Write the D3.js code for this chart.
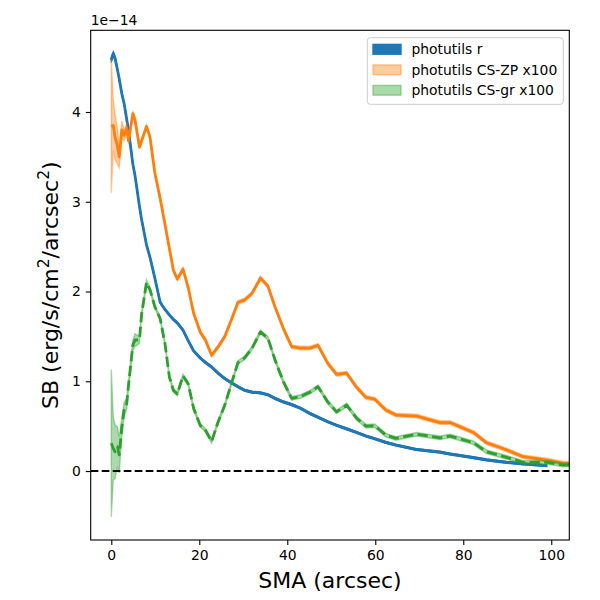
<!DOCTYPE html>
<html><head><meta charset="utf-8">
<script src="https://cdn.jsdelivr.net/npm/d3@7"></script>
<style>body{margin:0;background:#fff}svg{display:block;font-family:'DejaVu Sans',sans-serif}</style>
</head><body>
<script>
// SMA grid (arcsec)
const sma = [0.0,0.45,0.85,1.4,1.8,2.4,2.9,3.5,3.9,4.9,5.4,6.4,6.9,8.0,8.8,9.9,11.1,12.2,13.2,14.1,15.0,16.3,17.5,18.7,20.2,21.4,22.8,24.3,25.8,27.4,28.8,30.3,32.0,33.9,35.6,37.2,39.1,41.0,43.0,45.2,47.0,49.2,51.2,53.5,55.8,57.9,59.9,62.4,64.7,69.4,74.7,77.0,82.3,85.3,89.9,93.6,99.0,102.8,104.1];
// surface brightness, units of 1e-14
const sbR = [4.58,4.65,4.60,4.47,4.37,4.20,4.10,3.92,3.80,3.42,3.29,2.95,2.80,2.52,2.38,2.15,1.88,1.80,1.74,1.69,1.65,1.57,1.45,1.34,1.26,1.21,1.16,1.09,1.03,0.98,0.94,0.90,0.88,0.87,0.85,0.81,0.77,0.74,0.70,0.64,0.60,0.55,0.51,0.47,0.43,0.39,0.36,0.32,0.29,0.24,0.21,0.19,0.15,0.125,0.097,0.08,0.06,null,null];
const sbZP = [3.84,3.85,3.72,3.62,3.50,3.80,3.74,3.82,3.68,3.98,3.91,3.61,3.68,3.84,3.72,3.32,3.04,2.75,2.48,2.24,2.14,2.25,2.04,1.76,1.55,1.46,1.29,1.385,1.50,1.70,1.88,1.905,1.98,2.15,2.06,1.83,1.59,1.385,1.37,1.37,1.40,1.20,1.077,1.09,0.93,0.82,0.80,0.68,0.624,0.613,0.54,0.54,0.43,0.315,0.234,0.16,0.123,0.086,0.086];
const sbGR = [0.31,0.25,0.215,0.27,0.18,0.49,0.68,0.75,0.95,1.40,1.46,1.46,1.75,2.10,2.02,1.83,1.70,1.42,1.05,0.90,0.86,1.06,0.97,0.70,0.51,0.455,0.33,0.55,0.735,0.99,1.21,1.26,1.37,1.55,1.48,1.24,0.995,0.81,0.83,0.88,0.94,0.77,0.66,0.735,0.587,0.50,0.505,0.40,0.364,0.41,0.37,0.39,0.315,0.215,0.152,0.097,0.097,0.067,0.07];
// half-widths of the uncertainty bands
const errR = [0.03,0.02,0.02,0.01,0.01,0.01,0.01,0.01,0.01,0.01,0.01,0.01,0.01,0.01,0.01,0.01,0.01,0.01,0.01,0.01,0.01,0.01,0.01,0.01,0.01,0.01,0.01,0.01,0.01,0.01,0.01,0.01,0.01,0.01,0.01,0.01,0.01,0.01,0.01,0.01,0.01,0.01,0.01,0.01,0.01,0.01,0.01,0.01,0.01,0.01,0.01,0.01,0.01,0.01,0.01,0.01,0.01,null,null];
const errZP = [0.74,0.28,0.25,0.20,0.12,0.10,0.06,0.05,0.04,0.03,0.03,0.02,0.02,0.02,0.02,0.02,0.02,0.02,0.02,0.02,0.02,0.02,0.02,0.02,0.02,0.02,0.02,0.02,0.02,0.02,0.02,0.02,0.02,0.02,0.02,0.02,0.02,0.02,0.02,0.02,0.02,0.02,0.02,0.02,0.02,0.02,0.02,0.02,0.02,0.02,0.02,0.02,0.02,0.02,0.02,0.02,0.02,0.02,0.02];
const errGR = [0.82,0.35,0.30,0.22,0.20,0.10,0.08,0.06,0.05,0.06,0.07,0.04,0.03,0.03,0.02,0.02,0.02,0.02,0.02,0.02,0.02,0.02,0.02,0.02,0.02,0.02,0.02,0.02,0.02,0.02,0.02,0.02,0.02,0.02,0.02,0.02,0.02,0.02,0.02,0.02,0.02,0.02,0.02,0.02,0.02,0.02,0.02,0.02,0.02,0.02,0.02,0.02,0.02,0.02,0.02,0.02,0.02,0.02,0.02];
const xTicks = [0,20,40,60,80,100];
const yTicks = [0,1,2,3,4];
const seriesNames = ["photutils r","photutils CS-ZP x100","photutils CS-gr x100"];
const seriesColors = ["#1f77b4","#ff7f0e","#2ca02c"];

const W=600,H=600, L=90.7, R=569.3, T=30.3, B=540;
const svg = d3.select("body").append("svg").attr("width",W).attr("height",H);
const x = d3.scaleLinear().domain([-4.68,104.1]).range([L,R]);
const y = d3.scaleLinear().domain([-0.768,4.91]).range([B,T]);

svg.append("clipPath").attr("id","clip").append("rect").attr("x",L).attr("y",T).attr("width",R-L).attr("height",B-T);
const plot = svg.append("g").attr("clip-path","url(#clip)");

const series = [
  {v:sbR, e:errR, color:seriesColors[0], bandOpacity:1, dash:null},
  {v:sbZP, e:errZP, color:seriesColors[1], bandOpacity:0.4, dash:null},
  {v:sbGR, e:errGR, color:seriesColors[2], bandOpacity:0.4, dash:"10.3,4.4"}
];
series.forEach(s=>{
  const pts = sma.map((d,i)=>({x:d,v:s.v[i],e:s.e[i]}));
  const area = d3.area().defined(d=>d.v!=null).x(d=>x(d.x)).y0(d=>y(d.v-d.e)).y1(d=>y(d.v+d.e));
  plot.append("path").datum(pts).attr("d",area)
    .attr("fill",s.color).attr("fill-opacity",s.bandOpacity)
    .attr("stroke",s.color).attr("stroke-opacity",s.bandOpacity).attr("stroke-width",1.4);
  const line = d3.line().defined(d=>d.v!=null).x(d=>x(d.x)).y(d=>y(d.v));
  plot.append("path").datum(pts).attr("d",line)
    .attr("fill","none").attr("stroke",s.color).attr("stroke-width",2.8)
    .attr("stroke-dasharray",s.dash).attr("stroke-linejoin","round");
});
// zero line
plot.append("line").attr("x1",L).attr("x2",R).attr("y1",y(0)).attr("y2",y(0))
  .attr("stroke","#000").attr("stroke-width",2.1).attr("stroke-dasharray","7.7,3.3");

// axes
const xa = svg.append("g").attr("transform",`translate(0,${B})`)
  .call(d3.axisBottom(x).tickValues(xTicks).tickSize(4.9).tickPadding(4.9).tickFormat(d3.format("d")));
const ya = svg.append("g").attr("transform",`translate(${L},0)`)
  .call(d3.axisLeft(y).tickValues(yTicks).tickSize(4.9).tickPadding(4.9).tickFormat(d3.format("d")));
[xa,ya].forEach(a=>{
  a.select(".domain").remove();
  a.selectAll(".tick line").attr("stroke","#000").attr("stroke-width",1.1);
  a.selectAll(".tick text").attr("font-size","13.9px").attr("fill","#000").attr("font-family","DejaVu Sans");
});
svg.append("rect").attr("x",L).attr("y",T).attr("width",R-L).attr("height",B-T)
  .attr("fill","none").attr("stroke","#000").attr("stroke-width",1.1);

// offset text
svg.append("text").attr("x",L).attr("y",25).attr("font-size","13.9px").text("1e\u221214");

// axis labels
svg.append("text").attr("x",(L+R)/2).attr("y",588).attr("text-anchor","middle").attr("font-size","22px").text("SMA (arcsec)");
const yl = svg.append("text").attr("transform",`translate(58,${(T+B)/2}) rotate(-90)`).attr("text-anchor","middle").attr("font-size","22px");
yl.append("tspan").text("SB (erg/s/cm");
yl.append("tspan").attr("font-size","15.5px").attr("dy",-9).text("2");
yl.append("tspan").attr("dy",9).text("/arcsec");
yl.append("tspan").attr("font-size","15.5px").attr("dy",-9).text("2");
yl.append("tspan").attr("dy",9).text(")");

// legend
const lg = svg.append("g");
lg.append("rect").attr("x",367.3).attr("y",37.7).attr("width",196).attr("height",66.6).attr("rx",3)
  .attr("fill","#fff").attr("fill-opacity",0.8).attr("stroke","#cccccc").attr("stroke-width",1);
const legendOpacity=[1,0.4,0.4];
seriesNames.forEach((n,i)=>{
  const cy = 49.3 + i*20.5;
  lg.append("rect").attr("x",373).attr("y",cy-4.9).attr("width",28).attr("height",9.8)
    .attr("fill",seriesColors[i]).attr("fill-opacity",legendOpacity[i])
    .attr("stroke",seriesColors[i]).attr("stroke-opacity",legendOpacity[i]).attr("stroke-width",1.4);
  lg.append("text").attr("x",411.5).attr("y",cy+5).attr("font-size","13.9px").text(n);
});
</script>
</body></html>
